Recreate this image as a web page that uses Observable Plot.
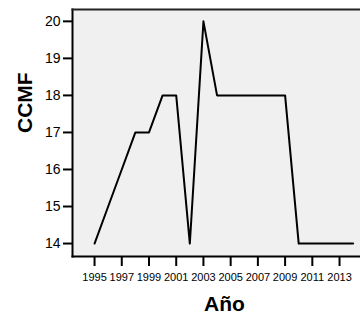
<!DOCTYPE html>
<html>
<head>
<meta charset="utf-8">
<script src="https://cdn.jsdelivr.net/npm/d3@7"></script>
<script src="https://cdn.jsdelivr.net/npm/@observablehq/plot@0.6"></script>
<style>
  html, body { margin: 0; padding: 0; background: #fff; }
  svg { display: block; }
</style>
</head>
<body>
<div id="chart"></div>
<script>
const years = [1995, 1996, 1997, 1998, 1999, 2000, 2001, 2002, 2003, 2004, 2005, 2006, 2007, 2008, 2009, 2010, 2011, 2012, 2013, 2014];
const ccmf  = [14, 15, 16, 17, 17, 18, 18, 14, 20, 18, 18, 18, 18, 18, 18, 14, 14, 14, 14, 14];
const xTicks = [1995, 1997, 1999, 2001, 2003, 2005, 2007, 2009, 2011, 2013];
const yTicks = [14, 15, 16, 17, 18, 19, 20];
const xLabel = "Año";
const yLabel = "CCMF";

const data = years.map((y, i) => ({year: y, value: ccmf[i]}));

const chart = Plot.plot({
  width: 360,
  height: 320,
  marginLeft: 72,
  marginRight: 0,
  marginTop: 9,
  marginBottom: 64,
  style: {fontFamily: "'Liberation Sans', Arial, sans-serif", background: "#fff", color: "#000", overflow: "visible"},
  x: {domain: [1993.38, 2014.54]},
  y: {domain: [13.65, 20.32]},
  marks: [
    Plot.frame({fill: "#f0f0f0", stroke: null}),
    Plot.axisY({ticks: yTicks, tickSize: 9, tickPadding: 3, fontSize: 14, label: null, strokeWidth: 2, stroke: "#000", strokeOpacity: 1, fill: "#000", tickFormat: d => String(d)}),
    Plot.axisX({ticks: xTicks, tickSize: 10, tickPadding: 7, fontSize: 11, label: null, strokeWidth: 2, stroke: "#000", strokeOpacity: 1, fill: "#000", tickFormat: d => String(d)}),
    Plot.frame({anchor: "left", stroke: "#000", strokeWidth: 2}),
    Plot.frame({anchor: "bottom", stroke: "#000", strokeWidth: 2}),
    Plot.frame({anchor: "top", stroke: "#222", strokeWidth: 2}),
    Plot.line(data, {x: "year", y: "value", stroke: "#000", strokeWidth: 2}),
    Plot.text([xLabel], {frameAnchor: "bottom", dx: 8, dy: 48, fontSize: 21, fontWeight: "bold", fill: "#000", lineAnchor: "middle"}),
    Plot.text([yLabel], {frameAnchor: "left", dx: -47, rotate: -90, fontSize: 21, fontWeight: "bold", fill: "#000"})
  ]
});
document.getElementById("chart").appendChild(chart);
</script>
</body>
</html>
